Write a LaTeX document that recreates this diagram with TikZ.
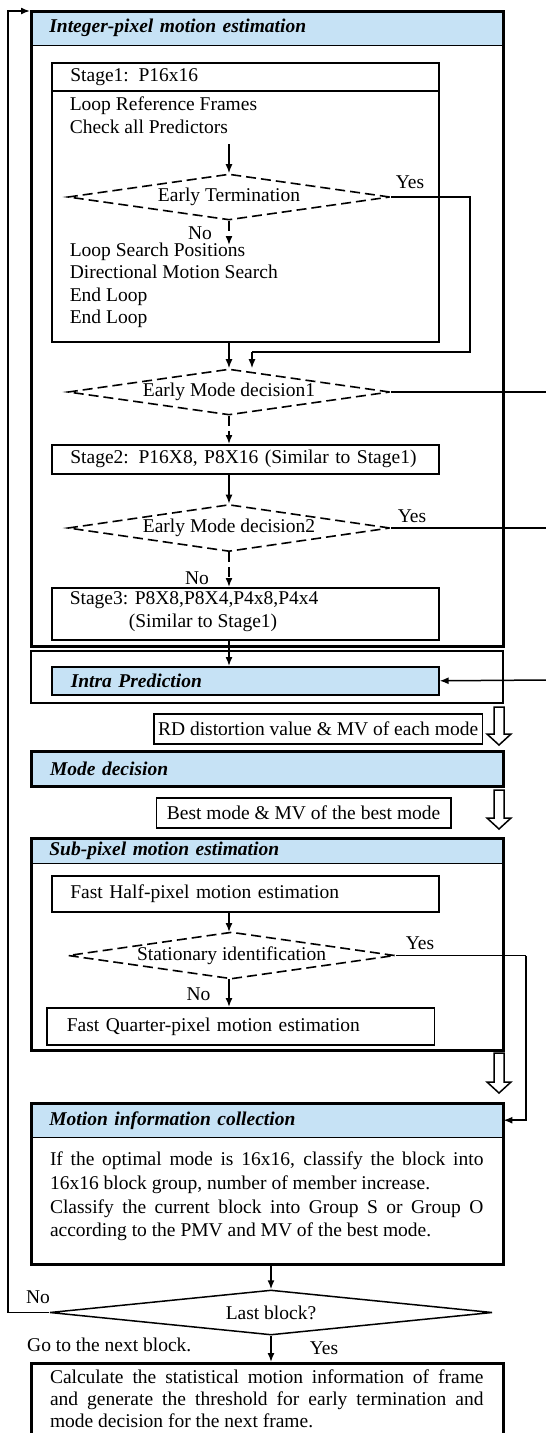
\documentclass[tikz,border=0pt]{standalone}
\usepackage{fontspec}
\setmainfont{Liberation Serif}
\usetikzlibrary{arrows.meta,shapes.geometric,calc}
\definecolor{hblue}{RGB}{198,226,245}
\begin{document}
\begin{tikzpicture}[x=1pt,y=-1pt,
  font=\fontsize{19.5}{23}\selectfont,
  box/.style={draw, line width=1.6pt, inner sep=0pt, anchor=north west},
  big/.style={draw, line width=2.8pt, inner sep=0pt, anchor=north west},
  hdr/.style={draw, fill=hblue, line width=1.4pt, inner sep=0pt, anchor=north west,
    font=\fontsize{19.5}{23}\selectfont\bfseries\itshape, align=left},
  hdrbig/.style={hdr, line width=2.8pt},
  lbl/.style={inner sep=0pt},
  txt/.style={anchor=west, inner sep=0pt, align=left},
  dia/.style={diamond, draw, line width=1.5pt, inner sep=0pt, aspect=7},
  dsh/.style={dash pattern=on 10pt off 5pt, line width=1.6pt},
  arr/.style={-{Latex[length=9pt,width=7pt]}, line width=1.5pt},
  ln/.style={line width=1.5pt},
  hol/.style={draw, line width=1.5pt, fill=white, line join=miter}
]
\useasboundingbox (0,0) rectangle (546,1433);
\fill[white] (0,0) rectangle (546,1433);

% ---------- Integer-pixel motion estimation ----------
\node[hdr, minimum width=472, minimum height=35, inner xsep=18.7, text width=434.6] (inthdr) at (30,10) {Integer-pixel motion estimation};
\node[big, minimum width=472, minimum height=635] (intbox) at (30,10) {};

\node[box, minimum width=387, minimum height=279] (s1) at (51,62) {};
\node[box, minimum width=387, minimum height=28, inner xsep=18.6, text width=349.8, align=left] (s1hdr) at (51,62) {Stage1: P16x16};
\node[txt] (s1ta) at (69.6,115.5) {Loop Reference Frames\\Check all Predictors};
\node[txt, font=\fontsize{19.5}{22.4}\selectfont] (s1tb) at (69.6,285.5) {Loop Search Positions\\Directional Motion Search\\End Loop\\End Loop};

\coordinate (a1) at (229,144);
\node[dia, dsh, minimum width=322, minimum height=46] (d1) at (229,197) {Early Termination};
\coordinate (a2) at (229,245);
\node[lbl] (y1) at (410,182) {Yes};
\node[lbl] (n1) at (200,233) {No};
\coordinate (yc1) at (470,197);
\coordinate (yc2) at (470,352);
\coordinate (yj) at (252,352);

\node[dia, dsh, minimum width=322, minimum height=46] (d2) at (229,392) {Early Mode decision1};
\coordinate (e1) at (546,392);

\node[box, minimum width=387, minimum height=29, inner xsep=18.6, text width=349.8, align=left] (s2) at (51,444) {Stage2: P16X8, P8X16 (Similar to Stage1)};

\node[dia, dsh, minimum width=322, minimum height=47] (d3) at (229,528) {Early Mode decision2};
\coordinate (e2) at (546,528);
\node[lbl] (y3) at (412,516) {Yes};
\node[lbl] (n3) at (197,578) {No};

\node[box, minimum width=387, minimum height=52] (s3) at (51,587) {};
\node[txt] (s3t) at (69.6,612) {Stage3: P8X8,P8X4,P4x8,P4x4\\\hspace*{59pt}(Similar to Stage1)};

% ---------- Intra prediction ----------
\node[big, line width=2pt, minimum width=472, minimum height=52] (intraout) at (30,650) {};
\node[hdr, line width=1.6pt, minimum width=387, minimum height=28, inner xsep=19, text width=349] (intra) at (51,666) {Intra Prediction};
\coordinate (e3) at (546,680);

% ---------- RD / Mode decision ----------
\node[box, minimum width=328.6, minimum height=30] (rd) at (153,713) {RD distortion value \& MV of each mode};
\node[hdrbig, minimum width=472, minimum height=35, inner xsep=18.7, text width=434.6] (mode) at (30,750) {Mode decision};
\node[box, minimum width=294.4, minimum height=30] (best) at (155.6,797) {Best mode \& MV of the best mode};

% ---------- Sub-pixel ----------
\node[hdr, minimum width=472, minimum height=26, inner xsep=18.7, text width=434.6] (subhdr) at (30,837) {Sub-pixel motion estimation};
\node[big, minimum width=472, minimum height=212] (sub) at (30,837) {};
\node[box, minimum width=387, minimum height=36, inner xsep=18.6, text width=349.8, align=left] (half) at (51,875) {Fast Half-pixel motion estimation};
\node[dia, dsh, minimum width=327, minimum height=47] (d4) at (231.5,955.5) {Stationary identification};
\node[lbl] (y4) at (420,943) {Yes};
\node[lbl] (n4) at (198.5,994) {No};
\node[box, minimum width=387.5, minimum height=37, inner xsep=20, text width=347.5, align=left] (quarter) at (46,1007) {Fast Quarter-pixel motion estimation};
\coordinate (hv) at (229,911);
\coordinate (hw) at (229,932);
\coordinate (qv) at (229,979);
\coordinate (sy) at (526,955.5);

% ---------- Motion information collection ----------
\node[hdr, minimum width=472, minimum height=35, inner xsep=18.7, text width=434.6] (mothdr) at (30,1102) {Motion information collection};
\node[big, minimum width=472, minimum height=161] (mot) at (30,1102) {};
\node[anchor=west, inner sep=0pt, text width=433.5, align=justify, font=\fontsize{19.5}{23.6}\selectfont] (mott) at (49.8,1196.5)
 {If the optimal mode is 16x16, classify the block into\linebreak 16x16 block group, number of member increase.\\ Classify the current block into Group S or Group O\linebreak according to the PMV and MV of the best mode.};

\node[dia, minimum width=442.5, minimum height=45] (last) at (271,1312.5) {Last block?};
\coordinate (lp) at (8,11);
\node[lbl] (n5) at (38,1297) {No};
\node[txt] (gonext) at (27,1345) {Go to the next block.};
\node[lbl] (y5) at (324,1348) {Yes};

\node[big, minimum width=472, minimum height=100] (final) at (30,1362) {};
\node[anchor=west, inner sep=0pt, text width=433.5, align=justify, font=\fontsize{19.5}{22}\selectfont] (finalt) at (49.8,1399)
 {Calculate the statistical motion information of frame\linebreak and generate the threshold for early termination and\linebreak mode decision for the next frame.};

% ---------- connectors ----------
\draw[arr] (a1) -- (d1.north);
\draw[arr, dsh] (d1.south) -- (a2);
\draw[ln] (d1.east) -- (yc1) -- (yc2) -- (yj);
\draw[arr] (yj) -- (yj |- d2.north);
\draw[arr] (s1.south -| d2.north) -- (d2.north);
\draw[ln] (d2.east) -- (e1);
\draw[arr, dsh] (d2.south) -- (d2.south |- s2.north);
\draw[arr] (d3.north |- s2.south) -- (d3.north);
\draw[ln] (d3.east) -- (e2);
\draw[arr, dsh] (d3.south) -- (d3.south |- s3.north);
\draw[arr] (d3.south |- s3.south) -- (d3.south |- intra.north);
\draw[arr] (e3) -- (intra.east);

\draw[arr] (hv) -- (hw);
\draw[arr] (qv) -- (qv |- quarter.north);
\draw[ln] (d4.east) -- (sy);
\draw[arr] (sy) |- (mothdr.east);

\draw[arr] (last.north |- mot.south) -- (last.north);
\draw[arr] (last.south) -- (last.south |- final.north);
\draw[arr] (last.west) -| (lp) -- (intbox.west |- lp);

% hollow arrows
\draw[hol] (499,707) ++(-5,0) -- ++(10,0) -- ++(0,27) -- ++(7,0) -- ++(-12,11) -- ++(-12,-11) -- ++(7,0) -- cycle;
\draw[hol] (499,790) ++(-5,0) -- ++(10,0) -- ++(0,28) -- ++(7,0) -- ++(-12,11) -- ++(-12,-11) -- ++(7,0) -- cycle;
\draw[hol] (499,1053) ++(-5,0) -- ++(10,0) -- ++(0,29) -- ++(7,0) -- ++(-12,11) -- ++(-12,-11) -- ++(7,0) -- cycle;
\end{tikzpicture}
\end{document}
